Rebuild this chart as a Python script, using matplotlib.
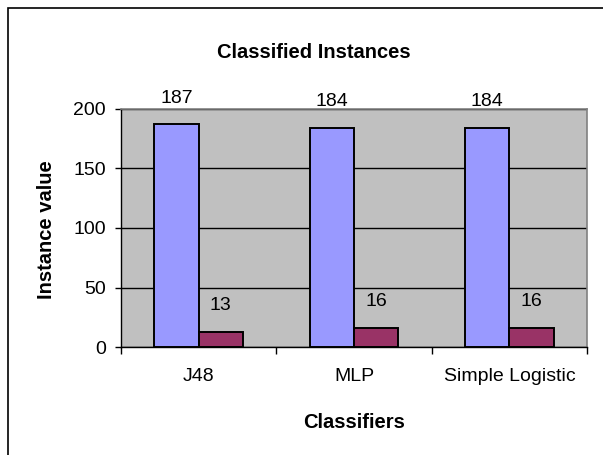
import numpy as np
import matplotlib.pyplot as plt
from matplotlib.patches import Rectangle

# -----------------------------
# Data
# -----------------------------
classifiers = ["J48", "MLP", "Simple Logistic"]
correct = [187, 184, 184]
incorrect = [13, 16, 16]

W, H = 603, 455
fig = plt.figure(figsize=(W / 100, H / 100), dpi=100)
plt.rcParams["font.family"] = ["Liberation Sans", "DejaVu Sans"]

# plot area in pixels: x 121-587, y 109-347
L, R, T, B = 121, 587, 109, 347
ax = fig.add_axes([L / W, 1 - B / H, (R - L) / W, (B - T) / H])
ax.set_facecolor("#C0C0C0")

x = np.arange(len(classifiers))
bw = 0.285
b1 = ax.bar(x - bw / 2, correct, bw, color="#9999FF", edgecolor="black", linewidth=1.4, zorder=3)
b2 = ax.bar(x + bw / 2, incorrect, bw, color="#993366", edgecolor="black", linewidth=1.4, zorder=3)

# value labels above bars (Excel style, sitting a bit high)
for bars, vals in [(b1, correct), (b2, incorrect)]:
    for b, v in zip(bars, vals):
        ax.annotate(str(v), (b.get_x() + b.get_width() / 2, v), xytext=(0, 19),
                    textcoords="offset points", ha="center", va="center", fontsize=14)

ax.set_xlim(-0.5, 2.5)
ax.set_ylim(0, 200)
ax.set_yticks([0, 50, 100, 150, 200])
ax.yaxis.grid(True, color="black", linewidth=1, zorder=1)
ax.set_axisbelow(True)

# x ticks at category boundaries, labels centred
ax.set_xticks([-0.5, 0.5, 1.5, 2.5])
ax.set_xticklabels([])
ax.set_xticks(x, minor=True)
ax.set_xticklabels(classifiers, minor=True, fontsize=14)
ax.tick_params(axis="x", which="minor", length=0, pad=15)
ax.tick_params(axis="x", which="major", length=5, direction="out", width=1)
ax.tick_params(axis="y", length=4, direction="out", width=1, labelsize=14, pad=7)

for s in ["top", "right"]:
    ax.spines[s].set_color("#808080")
    ax.spines[s].set_linewidth(1.2)
for s in ["left", "bottom"]:
    ax.spines[s].set_color("black")
    ax.spines[s].set_linewidth(1)

ax.set_xlabel("Classifiers", fontsize=14.5, fontweight="bold", va="center")
ax.xaxis.set_label_coords((354 - L) / (R - L), -(423 - B) / (B - T))
ax.set_ylabel("Instance value", fontsize=14.5, fontweight="bold", va="center")
ax.yaxis.set_label_coords(-(L - 46) / (R - L), (B - 230) / (B - T))

fig.text(314 / W, 1 - 53 / H, "Classified Instances", ha="center", va="center",
         fontsize=14.5, fontweight="bold")

# chart border
fig.patches.append(Rectangle((8 / W, -0.05), 1, 1 - 8 / H + 0.05, transform=fig.transFigure,
                             fill=False, edgecolor="black", linewidth=1.2))

fig.savefig("out.png", dpi=100)
